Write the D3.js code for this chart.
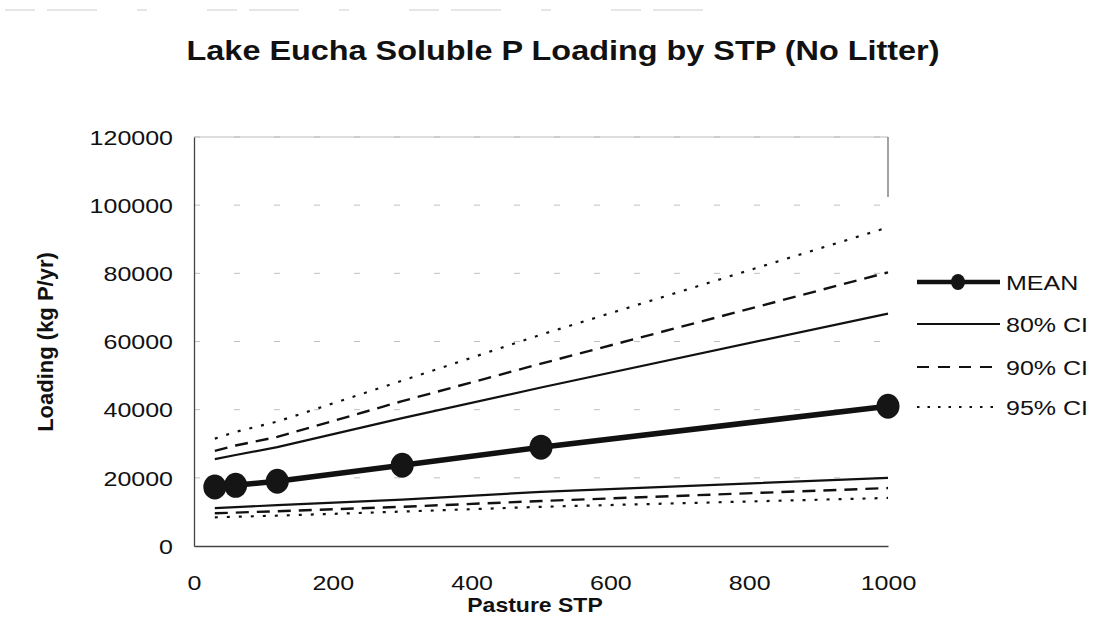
<!DOCTYPE html>
<html>
<head>
<meta charset="utf-8">
<script src="https://cdn.jsdelivr.net/npm/d3@7"></script>
<style>
  html, body { margin: 0; padding: 0; background: #fff; }
  svg { display: block; font-family: "Liberation Sans", Arial, sans-serif; }
</style>
</head>
<body>
<svg id="chart" width="1101" height="629"></svg>
<script>
const stp        = [30, 60, 120, 300, 500, 1000];
const meanLoad   = [17300, 17800, 19000, 23700, 29000, 41000];
const ci80Upper  = [25500, 26700, 29000, 37500, 46500, 68200];
const ci80Lower  = [11100, 11400, 12000, 13600, 15900, 20000];
const ci90Upper  = [27900, 29500, 32000, 42500, 53500, 80300];
const ci90Lower  = [9600, 9800, 10200, 11500, 13200, 17000];
const ci95Upper  = [31500, 33500, 36500, 48500, 62000, 93500];
const ci95Lower  = [8400, 8600, 8900, 10100, 11500, 14100];
const xTicks     = [0, 200, 400, 600, 800, 1000];
const yTicks     = [0, 20000, 40000, 60000, 80000, 100000, 120000];
const legendLabels = ["MEAN", "80% CI", "90% CI", "95% CI"];

const svg = d3.select("#chart");
const pLeft = 194, pRight = 888, pTop = 137, pBottom = 546;
const sx = 1.25;

const x = d3.scaleLinear().domain([0, 1000]).range([pLeft, pRight]);
const y = d3.scaleLinear().domain([0, 120000]).range([pBottom, pTop]);

// faint scan artifact line at top
svg.append("line").attr("x1", 5).attr("x2", 715).attr("y1", 10).attr("y2", 10)
  .attr("stroke", "#ccc").attr("stroke-width", 1).attr("stroke-dasharray", "30,12,50,40,10,60");

// gridlines (faded, fragmented)
svg.append("g").selectAll("line").data(yTicks.filter(d => d > 0)).join("line")
  .attr("x1", pLeft).attr("x2", pRight)
  .attr("y1", d => y(d)).attr("y2", d => y(d))
  .attr("stroke", "#999").attr("stroke-width", 1)
  .attr("stroke-dasharray", "6,34")
  .attr("opacity", 0.6);

// plot border (faint)
svg.append("line").attr("x1", pLeft).attr("x2", pRight).attr("y1", pTop).attr("y2", pTop)
  .attr("stroke", "#bbb").attr("stroke-width", 1);
svg.append("line").attr("x1", pRight).attr("x2", pRight).attr("y1", pTop).attr("y2", pTop + 60)
  .attr("stroke", "#666").attr("stroke-width", 1.2);

// axes
const yAxis = d3.axisLeft(y).tickValues(yTicks).tickSize(0).tickPadding(0).tickFormat(d3.format("d"));
const xAxis = d3.axisBottom(x).tickValues(xTicks).tickSize(0).tickPadding(0).tickFormat(d3.format("d"));

const gy = svg.append("g").attr("transform", `translate(${pLeft},0)`).call(yAxis);
gy.select(".domain").attr("stroke", "#444").attr("stroke-width", 1.3);
gy.selectAll("text")
  .attr("x", -21 / sx).attr("dy", "0.36em")
  .attr("transform", `scale(${sx},1)`)
  .attr("font-size", 20).attr("fill", "#111")
  .attr("font-family", "Liberation Sans, Arial, sans-serif");

const gx = svg.append("g").attr("transform", `translate(0,${pBottom})`).call(xAxis);
gx.select(".domain").attr("stroke", "#444").attr("stroke-width", 1.3);
gx.selectAll(".tick text")
  .attr("y", 0).attr("dy", 0)
  .attr("transform", `translate(0,44) scale(${sx},1)`)
  .attr("font-size", 20).attr("fill", "#111")
  .attr("font-family", "Liberation Sans, Arial, sans-serif");

// series
const series = [
  { key: "95u", vals: ci95Upper, dash: "3,9", w: 2.2 },
  { key: "90u", vals: ci90Upper, dash: "13,8", w: 2.4 },
  { key: "80u", vals: ci80Upper, dash: null, w: 2.2 },
  { key: "80l", vals: ci80Lower, dash: null, w: 2.2 },
  { key: "90l", vals: ci90Lower, dash: "13,8", w: 2.4 },
  { key: "95l", vals: ci95Lower, dash: "3,9", w: 2.2 }
];
const line = d3.line().x(d => x(d[0])).y(d => y(d[1]));

svg.append("g").selectAll("path").data(series).join("path")
  .attr("d", s => line(stp.map((v, i) => [v, s.vals[i]])))
  .attr("fill", "none").attr("stroke", "#111")
  .attr("stroke-width", s => s.w)
  .attr("stroke-dasharray", s => s.dash);

// mean
svg.append("path")
  .attr("d", line(stp.map((v, i) => [v, meanLoad[i]])))
  .attr("fill", "none").attr("stroke", "#111").attr("stroke-width", 5.5);
svg.append("g").selectAll("ellipse").data(stp.map((v, i) => [v, meanLoad[i]])).join("ellipse")
  .attr("cx", d => x(d[0])).attr("cy", d => y(d[1]))
  .attr("rx", 11.5).attr("ry", 12.5).attr("fill", "#151515");

// title
svg.append("text")
  .attr("transform", `translate(563,60) scale(1.2,1)`)
  .attr("text-anchor", "middle").attr("font-size", 27).attr("font-weight", "bold")
  .attr("fill", "#111")
  .text("Lake Eucha Soluble P Loading by STP (No Litter)");

// axis titles
svg.append("text")
  .attr("transform", `translate(535,612) scale(1.15,1)`)
  .attr("text-anchor", "middle").attr("font-size", 20).attr("font-weight", "bold")
  .attr("fill", "#111")
  .text("Pasture STP");

svg.append("text")
  .attr("transform", `translate(53,342) rotate(-90)`)
  .attr("text-anchor", "middle").attr("font-size", 22).attr("font-weight", "bold")
  .attr("fill", "#111")
  .text("Loading (kg P/yr)");

// legend
const legY = [282, 324, 367, 407];
const legStyles = [
  { dash: null, w: 4.5, marker: true },
  { dash: null, w: 2, marker: false },
  { dash: "12,9", w: 2, marker: false },
  { dash: "2.5,8", w: 2, marker: false }
];
const leg = svg.append("g").selectAll("g").data(legendLabels).join("g")
  .attr("transform", (d, i) => `translate(0,${legY[i]})`);
leg.append("line").attr("x1", 917).attr("x2", 1000).attr("y1", 0).attr("y2", 0)
  .attr("stroke", "#111")
  .attr("stroke-width", (d, i) => legStyles[i].w)
  .attr("stroke-dasharray", (d, i) => legStyles[i].dash);
leg.filter((d, i) => legStyles[i].marker).append("ellipse")
  .attr("cx", 958).attr("cy", 0).attr("rx", 7).attr("ry", 8).attr("fill", "#151515");
leg.append("text")
  .attr("transform", `translate(1006,7.5) scale(1.25,1)`)
  .attr("font-size", 20).attr("fill", "#111")
  .text(d => d);
</script>
</body>
</html>
